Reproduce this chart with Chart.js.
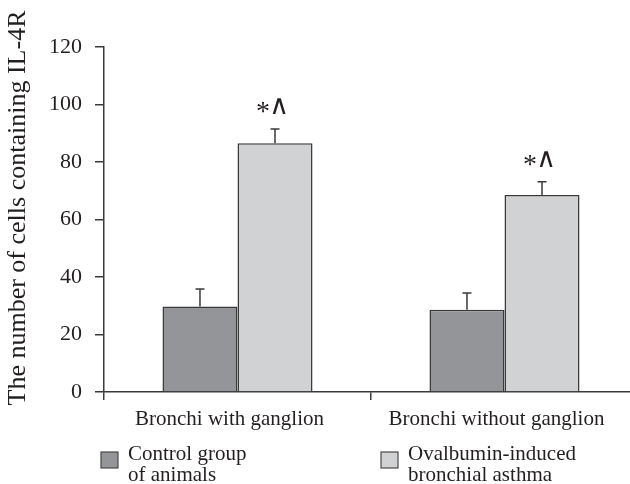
<!DOCTYPE html>
<html>
<head>
<meta charset="utf-8">
<script src="https://cdn.jsdelivr.net/npm/chart.js@4.4.1/dist/chart.umd.min.js"></script>
<style>
  html, body { margin: 0; padding: 0; background: #fff; overflow: hidden; }
  #wrap { width: 640px; height: 484px; }
</style>
</head>
<body>
<div id="wrap"><canvas id="chart" width="640" height="484"></canvas></div>
<script>
// data
const categories = ['Bronchi with ganglion', 'Bronchi without ganglion'];
const controlValues = [29.7, 28.6];
const controlErrors = [6.1, 5.8];
const asthmaValues = [86.5, 68.5];
const asthmaErrors = [5.0, 4.6];
const asthmaMarks = ['*', '*'];
const seriesNames = [['Control group', 'of animals'], ['Ovalbumin-induced', 'bronchial asthma']];
const yTitle = 'The number of cells containing IL-4R';
const yMax = 120;
const yStep = 20;

const SERIF = '"Liberation Serif", "Times New Roman", serif';
const INK = '#231f20';
const LINE = '#3a3a3a';
const controlColor = '#949599';
const asthmaColor = '#d1d2d4';

const errors = [controlErrors, asthmaErrors];

// upper whiskers + significance marks
const errorBars = {
    id: 'errorBars',
    afterDatasetsDraw(chart) {
        const ctx = chart.ctx;
        const y = chart.scales.y;
        ctx.save();
        ctx.strokeStyle = LINE;
        ctx.lineWidth = 1.5;
        chart.data.datasets.forEach((ds, i) => {
            chart.getDatasetMeta(i).data.forEach((bar, j) => {
                const top = y.getPixelForValue(ds.data[j] + errors[i][j]);
                ctx.beginPath();
                ctx.moveTo(bar.x, bar.y);
                ctx.lineTo(bar.x, top);
                ctx.moveTo(bar.x - 4.5, top);
                ctx.lineTo(bar.x + 4.5, top);
                ctx.stroke();
                if (i === 1 && asthmaMarks[j]) {
                    ctx.fillStyle = INK;
                    ctx.textAlign = 'center';
                    ctx.textBaseline = 'middle';
                    ctx.font = '28px ' + SERIF;
                    ctx.fillText(asthmaMarks[j], bar.x - 12, top - 16);
                    ctx.font = '27px "DejaVu Sans ExtraLight", "DejaVu Sans"';
                    ctx.fillText('\u2227', bar.x + 4, top - 22);
                }
            });
        });
        ctx.restore();
    }
};

// y title and legend under the axis
const extras = {
    id: 'extras',
    afterDraw(chart) {
        const ctx = chart.ctx;
        ctx.save();
        ctx.fillStyle = INK;
        ctx.font = '26px ' + SERIF;
        ctx.textAlign = 'center';
        ctx.textBaseline = 'middle';
        ctx.translate(18, 208);
        ctx.rotate(-Math.PI / 2);
        ctx.fillText(yTitle, 0, 0);
        ctx.restore();

        const boxes = [
            { x: 101, tx: 128, color: controlColor },
            { x: 381, tx: 408, color: asthmaColor }
        ];
        ctx.save();
        ctx.font = '21px ' + SERIF;
        ctx.textAlign = 'left';
        ctx.textBaseline = 'alphabetic';
        boxes.forEach((b, i) => {
            ctx.fillStyle = b.color;
            ctx.fillRect(b.x, 452, 17, 16);
            ctx.strokeStyle = '#4a4a4a';
            ctx.lineWidth = 1.2;
            ctx.strokeRect(b.x, 452, 17, 16);
            ctx.fillStyle = INK;
            seriesNames[i].forEach((line, k) => {
                ctx.fillText(line, b.tx, 460 + k * 21);
            });
        });
        ctx.restore();
    }
};

const ctx = document.getElementById('chart').getContext('2d');
const chart = new Chart(ctx, {
    type: 'bar',
    data: {
        labels: categories,
        datasets: [
            {
                label: seriesNames[0].join(' '),
                data: controlValues,
                backgroundColor: controlColor,
                borderColor: LINE,
                borderWidth: 1.5
            },
            {
                label: seriesNames[1].join(' '),
                data: asthmaValues,
                backgroundColor: asthmaColor,
                borderColor: LINE,
                borderWidth: 1.5
            }
        ]
    },
    options: {
        responsive: false,
        animation: false,
        devicePixelRatio: 1,
        layout: { padding: { top: 47, right: 2, left: 0, bottom: 0 } },
        datasets: { bar: { categoryPercentage: 0.562, barPercentage: 1.0 } },
        plugins: {
            legend: { display: false },
            tooltip: { enabled: false }
        },
        scales: {
            x: {
                offset: true,
                grid: {
                    drawOnChartArea: false,
                    drawTicks: true,
                    tickLength: 8,
                    color: LINE,
                    lineWidth: 1.5
                },
                border: { color: LINE, width: 1.5 },
                ticks: {
                    color: INK,
                    font: { family: SERIF, size: 21 },
                    padding: 7,
                    labelOffset: -8,
                    maxRotation: 0
                },
                afterFit(scale) { scale.height = 92; }
            },
            y: {
                min: 0,
                max: yMax,
                grid: {
                    drawOnChartArea: false,
                    drawTicks: true,
                    tickLength: 9,
                    color: LINE,
                    lineWidth: 1.5
                },
                border: { color: LINE, width: 1.5 },
                ticks: {
                    stepSize: yStep,
                    color: INK,
                    font: { family: SERIF, size: 22 },
                    padding: 13
                },
                afterFit(scale) { scale.width = 104; }
            }
        }
    },
    plugins: [errorBars, extras]
});
</script>
</body>
</html>
